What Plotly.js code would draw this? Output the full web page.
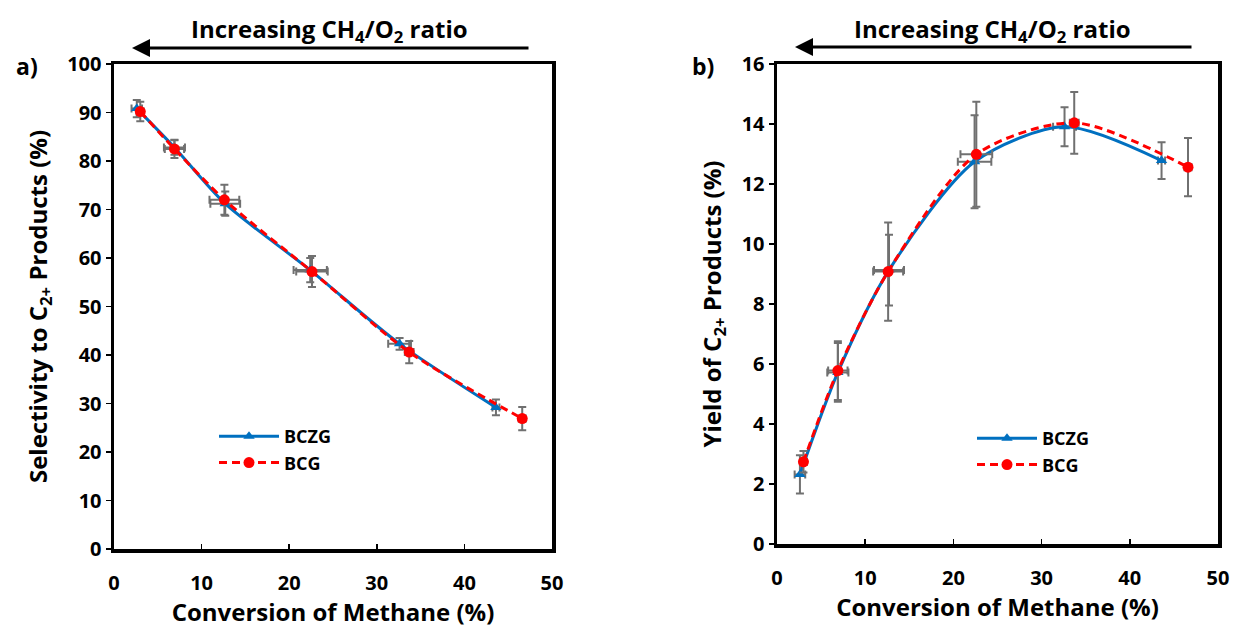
<!DOCTYPE html>
<html>
<head>
<meta charset="utf-8">
<script src="https://cdn.plot.ly/plotly-3.0.1.min.js"></script>
<style>html,body{margin:0;padding:0;background:#fff;}#chart{width:1234px;height:634px;}</style>
</head>
<body>
<div id="chart"></div>
<script>
// Conversion of methane (%)
const convBCZG = [2.6, 6.9, 12.7, 22.4, 32.6, 43.6];
const convBCG  = [3.0, 6.9, 12.6, 22.6, 33.7, 46.6];
const convErrBCZG = [0.6, 1.2, 1.7, 1.9, 1.3, 0.4];
const convErrBCG  = [0.4, 1.1, 1.7, 1.8, 0.5, 0.4];
// Selectivity to C2+ (%)
const selBCZG = [90.8, 82.8, 71.2, 57.5, 42.3, 29.2];
const selBCG  = [90.2, 82.5, 72.0, 57.2, 40.6, 26.9];
const selErrBCZG = [1.8, 1.5, 2.5, 2.5, 1.2, 1.6];
const selErrBCG  = [2.0, 1.9, 3.1, 3.2, 2.3, 2.4];
// Yield of C2+ (%)
const yldBCZG = [2.32, 5.72, 9.13, 12.74, 13.91, 12.78];
const yldBCG  = [2.74, 5.78, 9.08, 12.99, 14.04, 12.56];
const yldErrBCZG = [0.64, 0.98, 1.18, 1.55, 0.65, 0.61];
const yldErrBCG  = [0.36, 0.98, 1.64, 1.75, 1.03, 0.97];
const seriesNames = ['BCZG', 'BCG'];

const W = 1234, H = 634;
const px = v => v / W;
const py = v => 1 - v / H;
const FONT = '"Open Sans", Lato, sans-serif';
const BLUE = '#0070C0', RED = '#FF0000', GREY = '#707070';

function errY(arr){ return {type:'data', array:arr, visible:true, color:GREY, thickness:2, width:4}; }
function errX(arr){ return {type:'data', array:arr, visible:true, color:GREY, thickness:2, width:4}; }

function mk(x, y, ex, ey, idx, xa, ya, leg){
  const blue = idx === 0;
  return {
    x:x, y:y, type:'scatter', mode:'lines+markers', name:seriesNames[idx],
    xaxis:xa, yaxis:ya, legend:leg,
    line:{color: blue?BLUE:RED, width:3, shape:'spline', smoothing:0.8, dash: blue?'solid':'8px,5px'},
    marker:{symbol: blue?'triangle-up':'circle', size: blue?10:11, color: blue?BLUE:RED},
    error_y: errY(ey), error_x: errX(ex)
  };
}

const traces = [
  mk(convBCZG, selBCZG, convErrBCZG, selErrBCZG, 0, 'x', 'y', 'legend'),
  mk(convBCG, selBCG, convErrBCG, selErrBCG, 1, 'x', 'y', 'legend'),
  mk(convBCZG, yldBCZG, convErrBCZG, yldErrBCZG, 0, 'x2', 'y2', 'legend2'),
  mk(convBCG, yldBCG, convErrBCG, yldErrBCG, 1, 'x2', 'y2', 'legend2')
];

const axBase = {
  showline:true, linecolor:'#000', linewidth:3.5, mirror:true,
  showgrid:false, zeroline:false,
  tickfont:{family:FONT, size:20, color:'#000', weight:'bold'},
  tickcolor:'#000', tickwidth:1.5, ticklen:5
};
const titleFont = {family:FONT, size:24, color:'#000', weight:'bold'};

const layout = {
  width:W, height:H,
  margin:{l:0, r:0, t:0, b:0},
  paper_bgcolor:'#fff', plot_bgcolor:'#fff',
  showlegend:true,
  xaxis: Object.assign({}, axBase, {
    domain:[px(114), px(552)], range:[0,50], dtick:10, ticks:'inside', anchor:'y',
    ticklabelstandoff:13,
    title:{text:'Conversion of Methane (%)', font:titleFont, standoff:9}
  }),
  yaxis: Object.assign({}, axBase, {
    domain:[py(549), py(64)], range:[0,100], dtick:10, ticks:'outside', anchor:'x',
    title:{text:'Selectivity to C<sub>2+</sub> Products (%)', font:titleFont, standoff:14}
  }),
  xaxis2: Object.assign({}, axBase, {
    domain:[px(777), px(1218)], range:[0,50], dtick:10, ticks:'inside', anchor:'y2',
    ticklabelstandoff:13,
    title:{text:'Conversion of Methane (%)', font:titleFont, standoff:9}
  }),
  yaxis2: Object.assign({}, axBase, {
    domain:[py(544), py(64)], range:[0,16], dtick:2, ticks:'outside', anchor:'x2',
    title:{text:'Yield of C<sub>2+</sub> Products (%)', font:titleFont, standoff:14}
  }),
  legend:{x:px(214), y:py(418), xanchor:'left', yanchor:'top', bgcolor:'rgba(0,0,0,0)',
    font:{family:FONT, size:18, color:'#000', weight:'bold'}, itemwidth:60, tracegroupgap:0},
  legend2:{x:px(972), y:py(420), xanchor:'left', yanchor:'top', bgcolor:'rgba(0,0,0,0)',
    font:{family:FONT, size:18, color:'#000', weight:'bold'}, itemwidth:60, tracegroupgap:0},
  annotations:[
    {xref:'paper', yref:'paper', x:px(329), y:py(30), text:'Increasing CH<sub>4</sub>/O<sub>2</sub> ratio',
     showarrow:false, font:{family:FONT, size:24, color:'#000', weight:'bold'}, xanchor:'center', yanchor:'middle'},
    {xref:'paper', yref:'paper', x:px(992), y:py(30), text:'Increasing CH<sub>4</sub>/O<sub>2</sub> ratio',
     showarrow:false, font:{family:FONT, size:24, color:'#000', weight:'bold'}, xanchor:'center', yanchor:'middle'},
    {xref:'paper', yref:'paper', x:px(132), y:py(48), ax:px(530), ay:py(48), axref:'paper', ayref:'paper',
     text:'', showarrow:true, arrowhead:2, arrowsize:1.2, arrowwidth:3, arrowcolor:'#000'},
    {xref:'paper', yref:'paper', x:px(795), y:py(47), ax:px(1193), ay:py(47), axref:'paper', ayref:'paper',
     text:'', showarrow:true, arrowhead:2, arrowsize:1.2, arrowwidth:3, arrowcolor:'#000'},
    {xref:'paper', yref:'paper', x:px(14), y:py(66), text:'a)', showarrow:false,
     font:{family:FONT, size:23, color:'#000', weight:'bold'}, xanchor:'left', yanchor:'middle'},
    {xref:'paper', yref:'paper', x:px(690), y:py(66), text:'b)', showarrow:false,
     font:{family:FONT, size:23, color:'#000', weight:'bold'}, xanchor:'left', yanchor:'middle'}
  ]
};

Plotly.newPlot('chart', traces, layout, {staticPlot:true, displayModeBar:false});
</script>
</body>
</html>
